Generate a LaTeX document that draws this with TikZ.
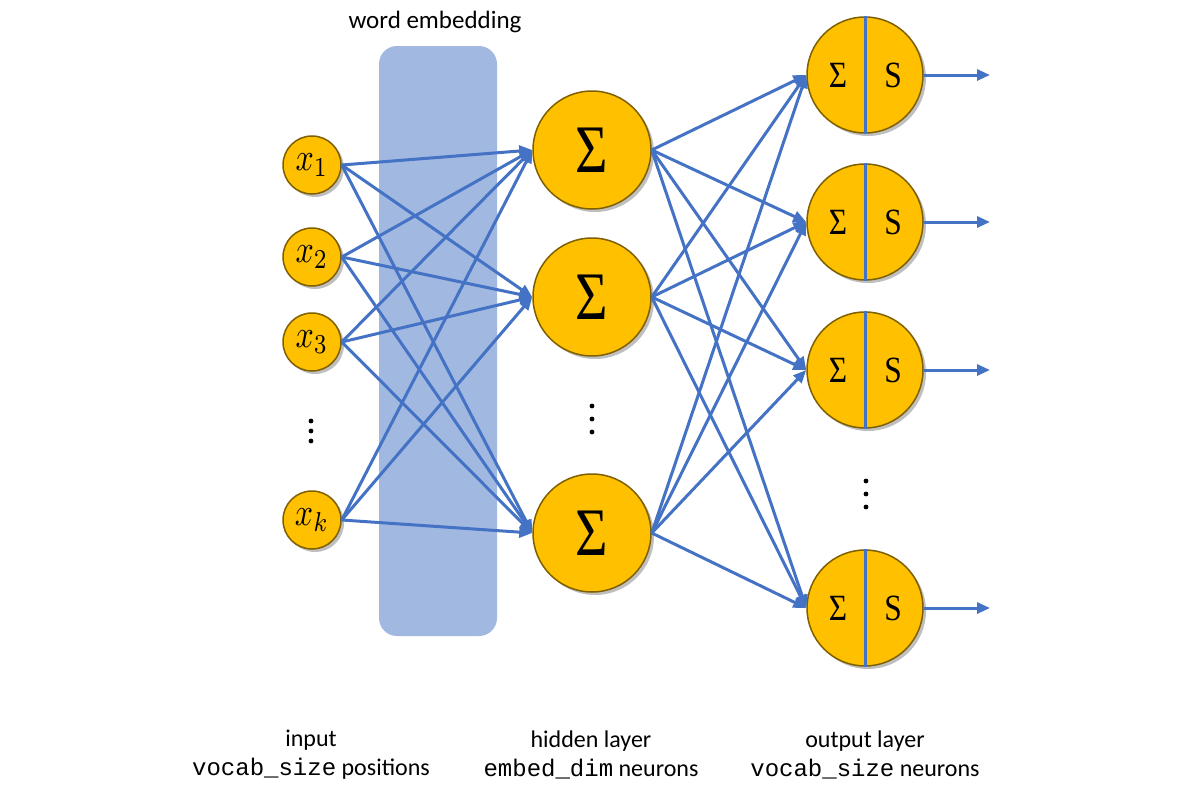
\documentclass[tikz,border=0pt]{standalone}
\usepackage{fontspec}
\setmainfont{Carlito}
\setmonofont{Liberation Mono}
\newfontfamily\serifg{Liberation Serif}
\usetikzlibrary{arrows.meta,shadows}
\definecolor{gold}{HTML}{FFC000}
\definecolor{goldborder}{HTML}{7F6000}
\definecolor{lineblue}{HTML}{4472C4}
\definecolor{bandblue}{HTML}{A1B8E1}
\tikzset{
  neuron/.style={circle,fill=gold,draw=goldborder,line width=1.5pt,inner sep=0pt,
    drop shadow={shadow xshift=3pt,shadow yshift=-3pt,opacity=0.25,fill=black}},
  innode/.style={neuron,minimum size=58pt},
  hidnode/.style={neuron,minimum size=118pt},
  outnode/.style={neuron,minimum size=116pt},
  conn/.style={draw=lineblue,line width=3pt,-{Triangle[length=13pt,width=11pt]}},
  divider/.style={draw=lineblue,line width=3pt},
  lbl/.style={font=\fontsize{24}{29}\selectfont,align=center,inner sep=0pt},
  dot/.style={fill=black}
}
\newcommand{\insym}[1]{\scalebox{3.2}[3.9]{$#1$}}
\newcommand{\bigsig}{\fontsize{68}{68}\selectfont\scalebox{0.82}[1]{\serifg Σ}}
\newcommand{\smsym}[1]{\fontsize{37}{37}\selectfont\scalebox{0.85}[1]{\serifg #1}}
\begin{document}
\begin{tikzpicture}[x=1pt,y=-1pt]
\useasboundingbox (0,0) rectangle (1195,798);
% band
\node[fill=bandblue,rounded corners=18pt,minimum width=118pt,minimum height=590pt,inner sep=0pt] (band) at (438,341) {};
\node[lbl,font=\fontsize{25}{29}\selectfont] (bandlbl) at (435,22) {word embedding};
% input nodes
\node[innode] (i1) at (312,165) {\insym{x_1}};
\node[innode] (i2) at (312,257) {\insym{x_2}};
\node[innode] (i3) at (312,342) {\insym{x_3}};
\node[innode] (ik) at (312,520) {\insym{x_k}};
% hidden nodes
\node[hidnode] (h1) at (592,150) {\bigsig};
\node[hidnode] (h2) at (592,297) {\bigsig};
\node[hidnode] (h3) at (592,533) {\bigsig};
% output nodes
\foreach \n/\y in {o1/75,o2/222,o3/370,o4/608}{
  \node[outnode] (\n) at (865,\y) {};
  \draw[divider] (\n.north) -- (\n.south);
  \node (\n s) at ([xshift=-27pt]\n.center) {\smsym{Σ}};
  \node (\n S) at ([xshift=28pt]\n.center) {\smsym{S}};
  \coordinate (\n e) at (990,\y);
  \draw[conn] (\n.east) -- (\n e);
}
% connections
\foreach \i in {i1,i2,i3,ik}{
  \foreach \h in {h1,h2,h3}{
    \draw[conn] (\i.east) -- (\h.west);
  }
}
\foreach \h in {h1,h2,h3}{
  \foreach \o in {o1,o2,o3,o4}{
    \draw[conn] (\h.east) -- (\o.west);
  }
}
% dots
\foreach \y in {421,431,441} \fill[dot] (311,\y) circle (2.4pt);
\foreach \y in {406,419,432} \fill[dot] (592,\y) circle (2.4pt);
\foreach \y in {481,494,507} \fill[dot] (866,\y) circle (2.4pt);
% labels
\node[lbl] (lin) at (311,755) {input\\\texttt{vocab\_size} positions};
\node[lbl] (lhid) at (591,755) {hidden layer\\\texttt{embed\_dim} neurons};
\node[lbl] (lout) at (865,755) {output layer\\\texttt{vocab\_size} neurons};
\end{tikzpicture}
\end{document}
